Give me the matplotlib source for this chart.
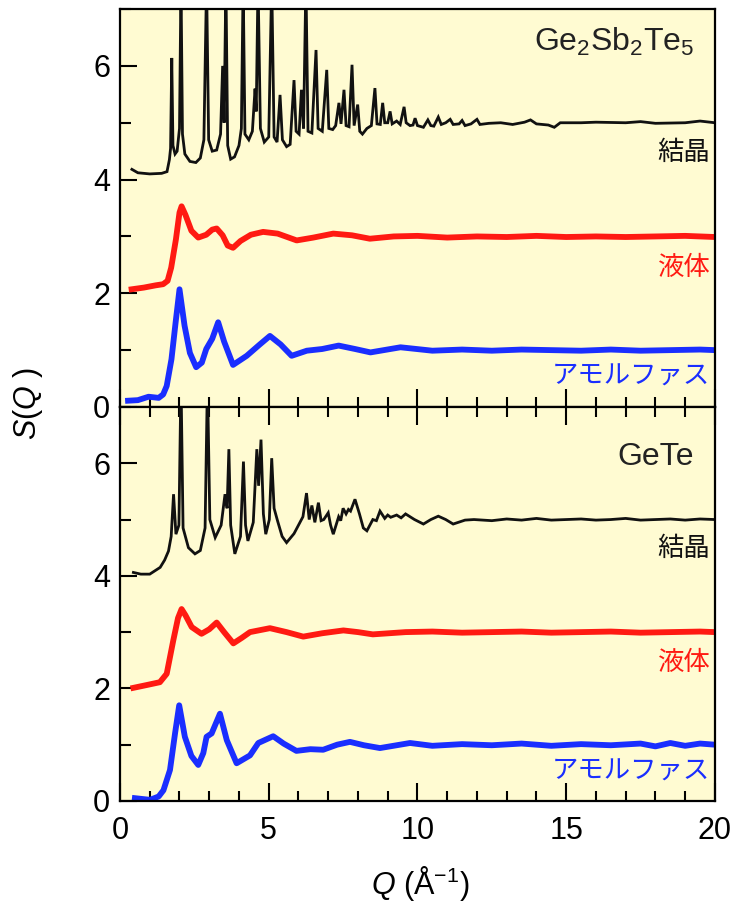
"""
S(Q) of Ge2Sb2Te5 and GeTe: crystal, liquid and amorphous, two stacked panels.
"""

import matplotlib
matplotlib.use("Agg")
import matplotlib.pyplot as plt
from matplotlib.ticker import MultipleLocator

plt.rcParams["font.family"] = ["Liberation Sans", "Noto Sans CJK JP", "DejaVu Sans"]
plt.rcParams["mathtext.fontset"] = "custom"
plt.rcParams["mathtext.rm"] = "Liberation Sans"
plt.rcParams["mathtext.it"] = "Liberation Sans:italic"
plt.rcParams["mathtext.bf"] = "Liberation Sans:bold"

# ---- Ge2Sb2Te5 -------------------------------------------------------------
gst_cry_q = [0.40, 0.60, 1.00, 1.40, 1.58, 1.66, 1.70, 1.74, 1.78, 1.85, 1.92,
             2.00, 2.05, 2.10, 2.18, 2.35, 2.55, 2.70, 2.82, 2.91, 2.98, 3.10,
             3.25, 3.38, 3.45, 3.50, 3.56, 3.62, 3.72, 3.85, 4.00, 4.08, 4.14,
             4.20, 4.33, 4.45, 4.54, 4.58, 4.64, 4.72, 4.85, 5.00, 5.10, 5.18,
             5.28, 5.38, 5.46, 5.60, 5.72, 5.85, 5.92, 6.02, 6.10, 6.17, 6.25,
             6.32, 6.45, 6.59, 6.66, 6.80, 6.95, 7.02, 7.15, 7.25, 7.36, 7.43,
             7.53, 7.60, 7.70, 7.80, 7.87, 7.99, 8.06, 8.15, 8.30, 8.45, 8.57,
             8.64, 8.75, 8.83, 8.90, 9.00, 9.08, 9.15, 9.30, 9.42, 9.55, 9.62,
             9.75, 9.85, 9.92, 10.00, 10.20, 10.35, 10.45, 10.55, 10.70, 10.80,
             10.95, 11.10, 11.20, 11.40, 11.50, 11.60, 11.80, 12.00, 12.10,
             12.40, 12.80, 13.20, 13.60, 13.80, 14.00, 14.40, 14.60, 14.80,
             15.50, 16.00, 17.00, 17.50, 18.00, 19.00, 19.50, 20.00]
gst_cry_s = [4.18, 4.12, 4.10, 4.11, 4.14, 4.35, 4.55, 6.14, 4.60, 4.45, 4.50,
             4.90, 7.50, 4.80, 4.45, 4.32, 4.30, 4.38, 4.70, 7.50, 4.70, 4.50,
             4.52, 4.80, 6.00, 5.00, 7.50, 4.60, 4.36, 4.40, 4.60, 4.90, 7.50,
             4.80, 4.70, 4.85, 5.60, 5.20, 7.50, 4.90, 4.66, 4.75, 7.50, 4.75,
             4.66, 5.49, 4.70, 4.58, 4.62, 5.75, 4.85, 4.80, 5.58, 4.90, 7.50,
             4.85, 4.82, 6.28, 4.90, 4.85, 5.93, 4.90, 4.88, 4.95, 5.35, 4.98,
             5.58, 4.95, 4.93, 6.02, 4.95, 5.32, 4.85, 4.80, 4.90, 4.95, 5.61,
             4.98, 4.97, 5.35, 5.00, 5.00, 5.20, 4.98, 5.03, 4.97, 5.28, 5.00,
             4.95, 4.96, 5.08, 4.95, 4.92, 5.05, 4.95, 4.94, 5.10, 4.97,
             5.00, 5.06, 4.97, 4.98, 5.04, 4.95, 4.98, 5.06, 4.97,
             4.99, 5.00, 4.97, 5.01, 5.05, 4.98, 4.96, 4.92, 5.00,
             5.00, 5.01, 5.00, 5.02, 4.99, 5.00, 5.03, 5.00]

gst_liq_q = [0.39, 0.80, 1.20, 1.45, 1.60, 1.72, 1.88, 2.00, 2.07, 2.20, 2.40,
             2.63, 2.90, 3.10, 3.25, 3.45, 3.62, 3.80, 4.05, 4.40, 4.81, 5.30,
             5.94, 6.50, 7.17, 7.80, 8.40, 9.20, 10.0, 11.0, 12.0, 13.0, 14.0,
             15.0, 16.0, 17.0, 18.0, 19.0, 20.0]
gst_liq_s = [2.07, 2.10, 2.14, 2.16, 2.22, 2.45, 2.95, 3.42, 3.53, 3.38, 3.10,
             2.98, 3.03, 3.12, 3.14, 3.02, 2.84, 2.80, 2.92, 3.03, 3.08, 3.05,
             2.93, 2.98, 3.05, 3.02, 2.96, 3.00, 3.01, 2.98, 3.00, 2.99, 3.01,
             2.99, 3.00, 2.99, 3.00, 3.01, 2.99]

gst_amo_q = [0.27, 0.60, 0.96, 1.30, 1.45, 1.57, 1.73, 1.87, 2.00, 2.17, 2.35,
             2.56, 2.75, 2.90, 3.10, 3.30, 3.50, 3.80, 4.26, 4.70, 5.04, 5.40,
             5.77, 6.28, 6.80, 7.35, 7.90, 8.42, 9.43, 10.5, 11.5, 12.5, 13.5,
             14.5, 15.5, 16.5, 17.5, 18.5, 19.5, 20.0]
gst_amo_s = [0.11, 0.12, 0.18, 0.16, 0.22, 0.37, 0.84, 1.49, 2.07, 1.43, 0.95,
             0.70, 0.78, 1.02, 1.20, 1.49, 1.15, 0.74, 0.90, 1.10, 1.25, 1.10,
             0.90, 0.99, 1.02, 1.08, 1.02, 0.96, 1.05, 0.99, 1.01, 0.99, 1.01,
             1.00, 0.99, 1.01, 0.99, 1.00, 1.01, 1.00]

# ---- GeTe ------------------------------------------------------------------
gete_cry_q = [0.45, 0.70, 1.00, 1.35, 1.50, 1.63, 1.72, 1.80, 1.88, 1.98, 2.05,
              2.12, 2.30, 2.52, 2.70, 2.86, 2.94, 3.02, 3.20, 3.40, 3.53, 3.60,
              3.66, 3.72, 3.86, 4.05, 4.15, 4.22, 4.30, 4.48, 4.60, 4.66, 4.74,
              4.82, 4.90, 5.02, 5.10, 5.18, 5.30, 5.45, 5.60, 5.85, 6.05, 6.15,
              6.27, 6.36, 6.45, 6.55, 6.67, 6.76, 6.85, 7.00, 7.08, 7.17, 7.35,
              7.42, 7.50, 7.60, 7.68, 7.75, 7.90, 8.05, 8.18, 8.30, 8.50, 8.62,
              8.74, 8.90, 9.00, 9.10, 9.30, 9.45, 9.60, 9.90, 10.2, 10.45, 10.7,
              10.95, 11.2, 11.6, 11.9, 12.5, 13.0, 13.5, 14.0, 14.5, 15.0, 15.5,
              16.0, 16.5, 17.0, 17.5, 18.0, 18.5, 19.0, 19.5, 20.0]
gete_cry_s = [4.06, 4.03, 4.03, 4.15, 4.28, 4.44, 4.70, 5.45, 4.74, 4.90, 7.50,
              4.85, 4.50, 4.39, 4.45, 4.85, 7.50, 5.00, 4.68, 4.90, 5.45, 5.20,
              6.25, 4.90, 4.39, 4.70, 6.03, 4.90, 4.62, 4.95, 6.25, 5.60, 6.42,
              5.10, 4.74, 5.00, 6.09, 5.20, 4.97, 4.70, 4.59, 4.75, 4.95, 5.05,
              5.47, 5.00, 5.25, 4.95, 5.30, 4.98, 5.00, 5.12, 4.90, 4.74, 5.05,
              4.98, 5.20, 5.10, 5.18, 5.15, 5.36, 5.10, 4.85, 4.80, 5.00, 4.98,
              5.15, 5.02, 5.08, 5.04, 5.08, 5.03, 5.10, 5.00, 4.92, 5.00, 5.06,
              5.00, 4.92, 4.99, 5.00, 4.98, 5.01, 4.99, 5.02, 4.99, 5.00, 5.01,
              4.99, 5.00, 5.02, 4.99, 5.00, 5.01, 4.99, 5.01, 5.00]

gete_liq_q = [0.45, 0.90, 1.34, 1.57, 1.79, 1.95, 2.07, 2.20, 2.41, 2.74, 3.00,
              3.25, 3.50, 3.81, 4.10, 4.37, 5.04, 5.60, 6.16, 6.80, 7.51, 8.00,
              8.50, 9.60, 10.5, 11.5, 12.5, 13.5, 14.5, 15.5, 16.5, 17.5, 18.5,
              19.5, 20.0]
gete_liq_s = [2.01, 2.06, 2.11, 2.26, 2.85, 3.25, 3.41, 3.30, 3.09, 2.97, 3.05,
              3.17, 3.00, 2.80, 2.90, 3.00, 3.07, 3.00, 2.92, 2.98, 3.03, 3.00,
              2.96, 3.00, 3.01, 2.99, 3.00, 3.01, 2.99, 3.00, 3.01, 2.99, 3.00,
              3.01, 3.00]

gete_amo_q = [0.50, 1.01, 1.30, 1.46, 1.68, 1.85, 1.99, 2.18, 2.40, 2.63, 2.80,
              2.91, 3.08, 3.36, 3.59, 3.92, 4.37, 4.65, 5.15, 5.50, 5.93, 6.40,
              6.83, 7.30, 7.73, 8.20, 8.74, 9.75, 10.5, 11.5, 12.5, 13.5, 14.5,
              15.5, 16.5, 17.5, 18.0, 18.5, 19.0, 19.5, 20.0]
gete_amo_s = [0.05, 0.02, 0.08, 0.19, 0.55, 1.20, 1.70, 1.14, 0.80, 0.64, 0.85,
              1.14, 1.20, 1.55, 1.08, 0.67, 0.81, 1.03, 1.15, 1.02, 0.89, 0.92,
              0.91, 1.00, 1.05, 0.99, 0.94, 1.03, 0.98, 1.01, 0.99, 1.02, 0.98,
              1.01, 0.99, 1.02, 0.97, 1.03, 0.98, 1.02, 1.00]

phase_labels = ["結晶", "液体", "アモルファス"]
phase_label_y = [4.48, 2.45, 0.53]
title_gst = "Ge$_2$Sb$_2$Te$_5$"
title_gete = "GeTe"

BG = "#fffbd2"
BLACK = "#111111"
RED = "#ff1a12"
BLUE = "#1a2eff"


def setup_axis(ax):
    ax.set_facecolor(BG)
    ax.set_xlim(0, 20)
    ax.set_ylim(0, 7)
    ax.xaxis.set_major_locator(MultipleLocator(5))
    ax.xaxis.set_minor_locator(MultipleLocator(1))
    ax.yaxis.set_major_locator(MultipleLocator(2))
    ax.yaxis.set_minor_locator(MultipleLocator(1))
    ax.tick_params(which="both", direction="in", right=False, width=1.5,
                   labelsize=22)
    ax.tick_params(which="major", length=13)
    ax.tick_params(which="minor", length=7)
    ax.tick_params(axis="y", which="major", length=12, pad=7)
    ax.tick_params(axis="y", which="minor", length=8)
    for sp in ax.spines.values():
        sp.set_linewidth(1.6)


def draw_panel(ax, cry, liq, amo, title, title_y):
    ax.plot(cry[0], cry[1], color=BLACK, lw=2.0, solid_joinstyle="miter")
    ax.plot(liq[0], liq[1], color=RED, lw=4.2)
    ax.plot(amo[0], amo[1], color=BLUE, lw=4.2)
    for lab, y, c in zip(phase_labels, phase_label_y, [BLACK, RED, BLUE]):
        ax.text(19.85, y, lab, color=c, fontsize=19, ha="right", va="center")
    ax.text(19.3, title_y, title, fontsize=23, ha="right", va="center",
            color="#222222")


fig = plt.figure(figsize=(7.34, 9.07), dpi=100)
ax1 = fig.add_axes([0.1635, 0.5513, 0.8105, 0.4387])
ax2 = fig.add_axes([0.1635, 0.1169, 0.8105, 0.4344])

setup_axis(ax1)
setup_axis(ax2)
ax1.tick_params(axis="x", which="both", top=False, labelbottom=False)
ax2.tick_params(axis="x", which="both", top=True, pad=11)

draw_panel(ax1, (gst_cry_q, gst_cry_s), (gst_liq_q, gst_liq_s),
           (gst_amo_q, gst_amo_s), title_gst, 6.42)
draw_panel(ax2, (gete_cry_q, gete_cry_s), (gete_liq_q, gete_liq_s),
           (gete_amo_q, gete_amo_s), title_gete, 6.12)

fig.text(0.038, 0.555, "$S$($Q$ )", rotation=90, fontsize=22,
         ha="center", va="center")
fig.text(0.572, 0.026, "$Q$ (Å$^{-1}$)", fontsize=22, ha="center",
         va="center")

fig.savefig("out.png", dpi=100)
